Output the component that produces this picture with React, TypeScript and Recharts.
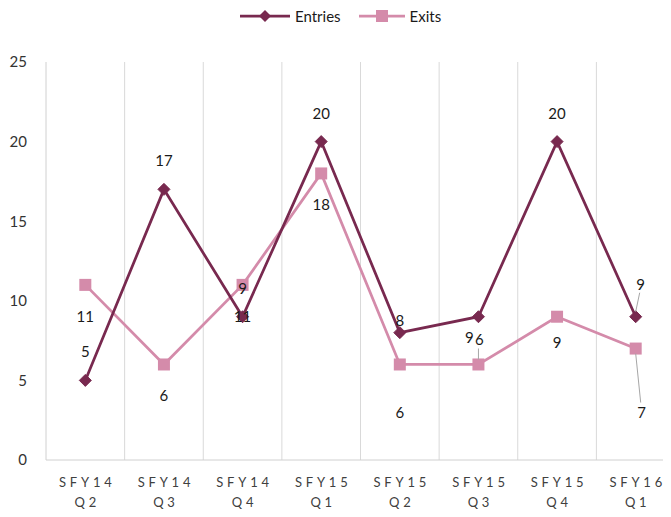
import React from "react";
import { LineChart, Line, XAxis, YAxis, ReferenceLine } from "recharts";

const categories = ["SFY14 Q2", "SFY14 Q3", "SFY14 Q4", "SFY15 Q1", "SFY15 Q2", "SFY15 Q3", "SFY15 Q4", "SFY16 Q1"];
const entries = [5, 17, 9, 20, 8, 9, 20, 9];
const exits = [11, 6, 11, 18, 6, 6, 9, 7];
const yTicks = [0, 5, 10, 15, 20, 25];

const ENTRY_COLOR = "#78294F";
const EXIT_COLOR = "#D48BAA";
const FONT = "Lato, 'Liberation Sans', sans-serif";

const data = categories.map((c, i) => ({ idx: i, label: c, entries: entries[i], exits: exits[i] }));
const xTicks = categories.map((_, i) => i);
const boundaries = categories.map((_, i) => i + 0.5);

// label nudges (dx, dy from the point, leader flag)
const entryNudge: Record<number, [number, number, boolean]> = {
  4: [0, -13, false],
  5: [-9, 20, false],
  7: [5, -33, true],
};
const exitNudge: Record<number, [number, number, boolean]> = {
  4: [0, 48, false],
  5: [1, -25, true],
  6: [0, 25, false],
  7: [6, 63, true],
};

const makeLabel = (nudges: Record<number, [number, number, boolean]>, defDy: number) => (props: any) => {
  const { x, y, value, index } = props;
  const n = nudges[index] || [0, defDy, false];
  const lx = x + n[0];
  const ly = y + n[1];
  const dir = n[1] < 0 ? 1 : -1;
  return (
    <g key={`lbl-${index}`}>
      {n[2] && (
        <line x1={lx - 1} y1={ly + dir * 9} x2={x} y2={y - dir * 5} stroke="#a6a6a6" strokeWidth={1} />
      )}
      <text x={lx} y={ly} textAnchor="middle" dominantBaseline="central" fontSize={15} fontFamily={FONT} fill="#1a1a1a">
        {value}
      </text>
    </g>
  );
};

const Diamond = (props: any) => {
  const { cx, cy, index } = props;
  if (cx == null || cy == null) return null;
  const r = 6;
  return <polygon key={`d-${index}`} points={`${cx},${cy - r} ${cx + r},${cy} ${cx},${cy + r} ${cx - r},${cy}`} fill={ENTRY_COLOR} stroke={ENTRY_COLOR} strokeWidth={1} />;
};

const Square = (props: any) => {
  const { cx, cy, index } = props;
  if (cx == null || cy == null) return null;
  const s = 6;
  return <rect key={`s-${index}`} x={cx - s} y={cy - s} width={2 * s} height={2 * s} fill={EXIT_COLOR} />;
};

const XTick = (props: any) => {
  const { x, y, payload } = props;
  const parts = String(categories[payload.value] || "").split(" ");
  return (
    <g>
      <text x={x + 2} y={y + 27} textAnchor="middle" fontSize={13} fontFamily={FONT} fill="#404040" letterSpacing={3.8}>
        {parts[0]}
      </text>
      <text x={x + 2} y={y + 47} textAnchor="middle" fontSize={13} fontFamily={FONT} fill="#404040" letterSpacing={3.8}>
        {parts[1]}
      </text>
    </g>
  );
};

const LegendBox = () => (
  <div style={{ position: "absolute", left: 238, top: 6, display: "flex", alignItems: "center", fontFamily: FONT, fontSize: 15, color: "#1a1a1a" }}>
    <svg width={54} height={20}>
      <line x1={2} y1={10} x2={52} y2={10} stroke={ENTRY_COLOR} strokeWidth={2.75} />
      <polygon points="27,4 33,10 27,16 21,10" fill={ENTRY_COLOR} />
    </svg>
    <span style={{ marginLeft: 3 }}>Entries</span>
    <svg width={50} height={20} style={{ marginLeft: 16 }}>
      <line x1={2} y1={10} x2={48} y2={10} stroke={EXIT_COLOR} strokeWidth={2.75} />
      <rect x={19} y={4} width={12} height={12} fill={EXIT_COLOR} />
    </svg>
    <span style={{ marginLeft: 3 }}>Exits</span>
  </div>
);

export default function App() {
  return (
    <div style={{ position: "relative", margin: -8, width: 671, height: 517, overflow: "hidden", background: "#fff" }}>
      <LineChart width={680} height={517} data={data} margin={{ top: 62, right: 5, bottom: 0, left: 0 }}>
        <XAxis
          dataKey="idx"
          type="number"
          domain={[-0.5, 7.5]}
          ticks={xTicks}
          allowDataOverflow
          interval={0}
          height={57}
          tickLine={false}
          tickSize={0}
          tickMargin={0}
          axisLine={{ stroke: "#d0d0d0", strokeWidth: 1 }}
          tick={<XTick />}
        />
        <YAxis
          domain={[0, 25]}
          ticks={yTicks}
          width={46}
          tickLine={false}
          tickSize={0}
          tickMargin={19}
          axisLine={{ stroke: "#d0d0d0", strokeWidth: 1 }}
          tick={{ fontSize: 15, fontFamily: FONT, fill: "#333" }}
          interval={0}
        />
        {boundaries.map((b) => (
          <ReferenceLine key={b} x={b} stroke="#d9d9d9" strokeWidth={1} ifOverflow="visible" />
        ))}
        <Line
          dataKey="exits"
          stroke={EXIT_COLOR}
          strokeWidth={2.75}
          dot={<Square />}
          isAnimationActive={false}
          label={makeLabel(exitNudge, 31)}
        />
        <Line
          dataKey="entries"
          stroke={ENTRY_COLOR}
          strokeWidth={2.75}
          dot={<Diamond />}
          isAnimationActive={false}
          label={makeLabel(entryNudge, -29)}
        />
      </LineChart>
      <LegendBox />
    </div>
  );
}
